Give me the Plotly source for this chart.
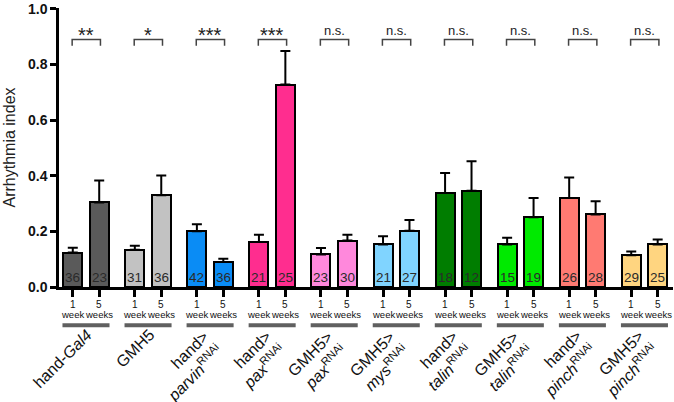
import plotly.graph_objects as go

# ---- data ----
group_labels = [
    "hand-<i>Gal4</i>",
    "GMH5",
    "hand&gt;<br><i>parvin</i><sup>RNAi</sup>",
    "hand&gt;<br><i>pax</i><sup>RNAi</sup>",
    "GMH5&gt;<br><i>pax</i><sup>RNAi</sup>",
    "GMH5&gt;<br><i>mys</i><sup>RNAi</sup>",
    "hand&gt;<br><i>talin</i><sup>RNAi</sup>",
    "GMH5&gt;<br><i>talin</i><sup>RNAi</sup>",
    "hand&gt;<br><i>pinch</i><sup>RNAi</sup>",
    "GMH5&gt;<br><i>pinch</i><sup>RNAi</sup>",
]
colors = ["#5a5a5a", "#c2c2c2", "#0a8cf5", "#ff2d8f", "#ff88dc",
          "#80d4ff", "#007d00", "#00ea00", "#ff7a72", "#ffd580"]
week1_mean = [0.124, 0.134, 0.200, 0.162, 0.117, 0.153, 0.338, 0.153, 0.320, 0.114]
week1_err = [0.017, 0.014, 0.026, 0.026, 0.023, 0.029, 0.072, 0.024, 0.074, 0.014]
week5_mean = [0.304, 0.330, 0.090, 0.728, 0.167, 0.202, 0.346, 0.251, 0.261, 0.153]
week5_err = [0.079, 0.071, 0.012, 0.120, 0.021, 0.039, 0.106, 0.069, 0.047, 0.018]
n_week1 = [36, 31, 42, 21, 23, 21, 18, 15, 26, 29]
n_week5 = [23, 36, 36, 25, 30, 27, 12, 19, 28, 25]
significance = ["**", "*", "***", "***", "n.s.", "n.s.", "n.s.", "n.s.", "n.s.", "n.s."]
week_top = ["1", "5"]
week_bottom = ["week", "weeks"]
y_ticks = [0.0, 0.2, 0.4, 0.6, 0.8, 1.0]

# ---- layout helpers ----
OFF = 0.213
BW = 0.306
XMIN, XMAX = -0.435, 9.46
ng = len(group_labels)
x1 = [g - OFF for g in range(ng)]
x5 = [g + OFF for g in range(ng)]
FONT = "Arial, Liberation Sans, sans-serif"

def px(x):
    return (x - XMIN) / (XMAX - XMIN)

fig = go.Figure()
for xs, means, errs in [(x1, week1_mean, week1_err), (x5, week5_mean, week5_err)]:
    fig.add_trace(go.Bar(
        x=xs, y=means, width=BW,
        marker=dict(color=colors, line=dict(color="black", width=2)),
        error_y=dict(type="data", array=errs, arrayminus=[0] * ng, symmetric=False,
                     color="black", thickness=2, width=5),
        showlegend=False, hoverinfo="skip",
    ))

annotations = []
shapes = []
for g in range(ng):
    # counts inside bars
    for xv, n in [(x1[g], n_week1[g]), (x5[g], n_week5[g])]:
        annotations.append(dict(x=xv, y=0, xref="x", yref="y", text=str(n),
                                showarrow=False, yanchor="bottom", yshift=0,
                                font=dict(family=FONT, size=13.5, color="#2a2a2a")))
    # week labels
    for j, xv in enumerate([x1[g], x5[g]]):
        annotations.append(dict(x=xv, y=-0.062, xref="x", yref="paper", text=week_top[j],
                                showarrow=False, yanchor="middle",
                                font=dict(family=FONT, size=10, color="#111111")))
        annotations.append(dict(x=xv, y=-0.098, xref="x", yref="paper", text=week_bottom[j],
                                showarrow=False, yanchor="middle",
                                font=dict(family=FONT, size=9.5, color="#111111")))
    # gray group line
    shapes.append(dict(type="line", xref="paper", yref="paper",
                       x0=px(g - 0.379), x1=px(g + 0.379), y0=-0.137, y1=-0.137,
                       line=dict(color="#606060", width=4)))
    # rotated group label
    two_line = "<br>" in group_labels[g]
    annotations.append(dict(x=g, y=-0.176, xref="x", yref="paper", text=group_labels[g],
                            showarrow=False, textangle=-45, xanchor="right", yanchor="top",
                            xshift=20 if two_line else 12, yshift=11 if two_line else 13,
                            align="right",
                            font=dict(family=FONT, size=16, color="#111111")))
    # significance bracket
    bx0, bx1 = x1[g] - 0.01, x5[g] + 0.02
    shapes.append(dict(type="path", xref="x", yref="y",
                       path=f"M {bx0},0.867 L {bx0},0.89 L {bx1},0.89 L {bx1},0.867",
                       line=dict(color="#444444", width=1.5)))
    is_ns = significance[g] == "n.s."
    annotations.append(dict(x=(x1[g] + x5[g]) / 2, y=0.922 if is_ns else 0.905, xref="x", yref="y",
                            text=significance[g], showarrow=False, yanchor="middle",
                            font=dict(family=FONT, size=13 if is_ns else 20,
                                      color="#222222")))

fig.update_layout(
    width=674, height=402,
    margin=dict(l=59, r=1, t=6, b=115),
    paper_bgcolor="white", plot_bgcolor="white",
    bargap=0, barmode="overlay",
    annotations=annotations, shapes=shapes,
    font=dict(family=FONT),
    xaxis=dict(range=[XMIN, XMAX], showgrid=False, zeroline=False,
               showline=True, linecolor="black", linewidth=2.5,
               tickmode="array", tickvals=x1 + x5, ticks="outside", ticklen=7,
               tickwidth=2.5, tickcolor="black", showticklabels=False),
    yaxis=dict(range=[0, 1.003], showgrid=False, zeroline=False,
               showline=True, linecolor="black", linewidth=2.5,
               tickmode="array", tickvals=y_ticks,
               ticktext=[f"<b>{v:.1f}</b>" for v in y_ticks],
               ticks="outside", ticklen=6, tickwidth=2.5, tickcolor="black",
               ticklabeloverflow="allow",
               tickfont=dict(family=FONT, size=14, color="#111111"),
               title=dict(text="Arrhythmia index", standoff=9,
                          font=dict(family=FONT, size=16, color="#222222"))),
)

fig.write_html("out.html", config={"displayModeBar": False},
               post_script="document.body.style.margin='0';")
